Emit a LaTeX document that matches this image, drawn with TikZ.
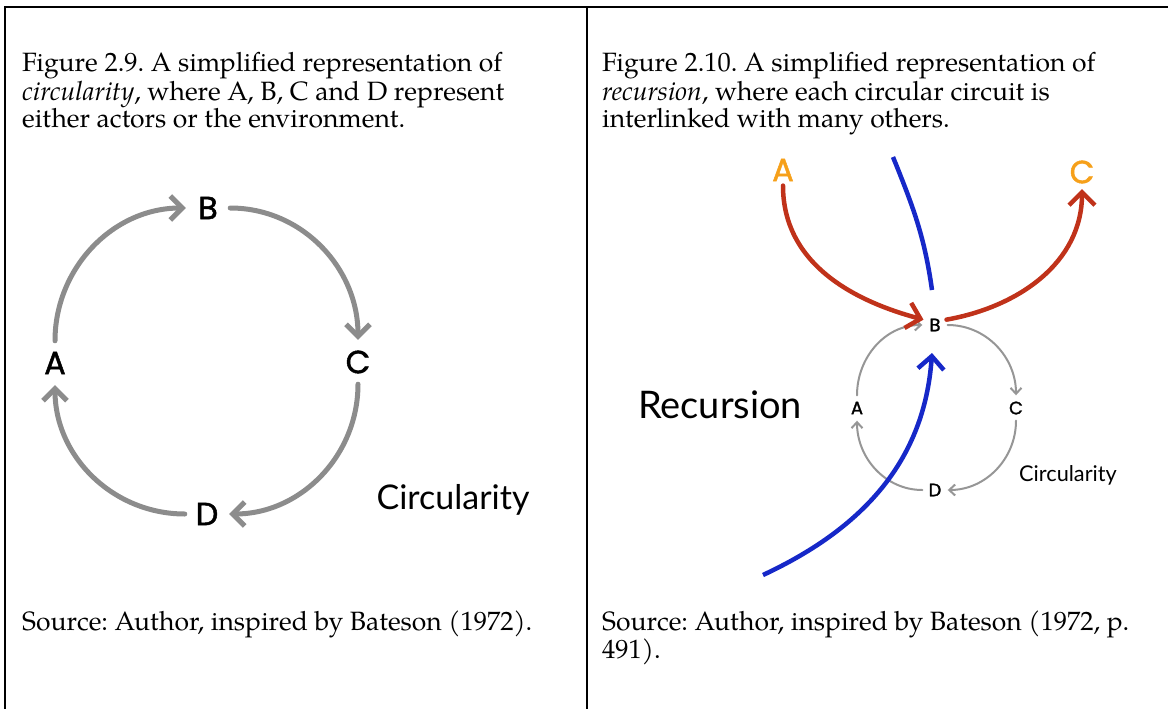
\documentclass[tikz,border=0pt]{standalone}
\usepackage{fontspec}
\setmainfont{TeX Gyre Pagella}
\newfontfamily\handfont{Poppins}[FakeBold=1.5]
\newfontfamily\tagfont{Lato}
\usetikzlibrary{arrows.meta}

\definecolor{loopgray}{RGB}{140,140,140}
\definecolor{smallgray}{RGB}{150,150,150}
\definecolor{flowred}{RGB}{192,50,26}
\definecolor{flowblue}{RGB}{22,40,200}
\definecolor{tagorange}{RGB}{246,160,26}

\tikzset{
  tablerule/.style={draw=black, line width=1.3pt},
  captext/.style={anchor=base west, inner sep=0pt, font=\frenchspacing\fontsize{26.5}{30}\selectfont},
  handtext/.style={font=\handfont\fontsize{#1}{#1}\selectfont},
  biglabel/.style={circle, minimum size=44pt, inner sep=0pt, handtext=32},
  smalllabel/.style={circle, minimum size=25pt, inner sep=0pt, handtext=18},
  toplabel/.style={circle, minimum size=30pt, inner sep=0pt, text=tagorange, handtext=32},
  bigloop/.style={draw=loopgray, line width=5pt, line cap=round,
    -{Straight Barb[length=12pt,width=24pt,line width=5pt]}},
  smallloop/.style={draw=smallgray, line width=2pt, line cap=round,
    -{Straight Barb[length=6pt,width=11pt,line width=2pt]}},
  redflow/.style={draw=flowred, line width=4.5pt, line cap=round,
    -{Straight Barb[length=13pt,width=26pt,line width=4.5pt]}},
  blueflow/.style={draw=flowblue, line width=4.5pt},
}

\begin{document}
\begin{tikzpicture}[x=1pt,y=1pt]
\useasboundingbox (0,0) rectangle (1168,-709);

% table rules
\draw[tablerule] (5,-709) -- (5,-7) -- (1168,-7);
\draw[tablerule] (587,-7) -- (587,-709);

% captions
\node[captext] (capL1) at (22,-71) {Figure 2.9. A simplified representation of};
\node[captext] (capL2) at (22,-100) {\textit{circularity}, where A, B, C and D represent};
\node[captext] (capL3) at (22,-128) {either actors or the environment.};
\node[captext] (capR1) at (602,-71) {Figure 2.10. A simplified representation of};
\node[captext] (capR2) at (602,-100) {\textit{recursion}, where each circular circuit is};
\node[captext] (capR3) at (602,-128) {interlinked with many others.};

\node[captext] (srcL) at (22,-630) {Source: Author, inspired by Bateson (1972).};
\node[captext] (srcR1) at (602,-630) {Source: Author, inspired by Bateson (1972, p.};
\node[captext] (srcR2) at (602,-658) {491).};

% circularity loop
\node[biglabel] (A) at (55,-363) {A};
\node[biglabel] (B) at (208,-208) {B};
\node[biglabel] (C) at (358,-362) {C};
\node[biglabel] (D) at (207,-514) {D};
\draw[bigloop] (A.north) to[out=90,in=180] (B.west);
\draw[bigloop] (B.east) to[out=0,in=90] (C.north);
\draw[bigloop] (C.south) to[out=-90,in=0] (D.east);
\draw[bigloop] (D.west) to[out=180,in=-90] (A.south);
\node[font=\tagfont\fontsize{34}{34}\selectfont] (circL) at (453,-500) {Circularity};

% recursion: small loop
\node[smalllabel] (sB) at (935,-325) {B};
\node[smalllabel] (sA) at (857,-408) {A};
\node[smalllabel] (sC) at (1016,-408) {C};
\node[smalllabel] (sD) at (935,-490) {D};
\draw[smallloop] (sA.north) to[out=90,in=180] (sB.west);
\draw[smallloop] (sB.east) to[out=0,in=90] (sC.north);
\draw[smallloop] (sC.south) to[out=-90,in=0] (sD.east);
\draw[smallloop] (sD.west) to[out=180,in=-90] (sA.south);
\node[font=\tagfont\fontsize{21.7}{22}\selectfont] (circR) at (1068,-475) {Circularity};
\node[font=\tagfont\fontsize{38}{38}\selectfont] (rec) at (720,-405) {Recursion};

% outer flows
\node[toplabel] (oA) at (783,-170) {A};
\node[toplabel] (oC) at (1082,-172) {C};
\draw[redflow] (oA.south) to[out=-90,in=165] (sB.155);
\draw[redflow] (sB.25) to[out=10,in=-90] (oC.south);

\coordinate (blueTopIn) at (893,-157);
\coordinate (blueTopOut) at (932,-290);
\coordinate (blueLowIn) at (763,-575);
\coordinate (blueLowOut) at (932,-353);
\draw[blueflow] (blueTopIn) to[out=-68,in=98] (blueTopOut);
\draw[blueflow, -{Straight Barb[length=13pt,width=26pt,line width=4.5pt]}]
  (blueLowIn) to[out=25,in=-94] (blueLowOut);
\end{tikzpicture}
\end{document}
